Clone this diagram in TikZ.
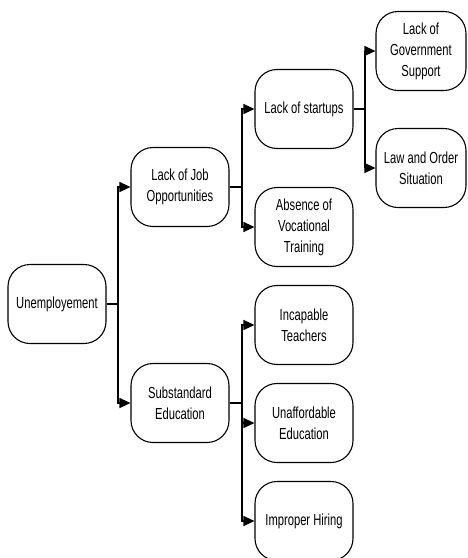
\documentclass[tikz,border=0pt]{standalone}
\usepackage{fontspec}
\setmainfont{Liberation Sans}[FakeStretch=0.7]
\usetikzlibrary{arrows.meta}

\begin{document}
\begin{tikzpicture}[x=1pt, y=-1pt, every node/.style={font=\fontsize{16}{21}\selectfont},
	box/.style={draw, line width=1.1pt, rounded corners=22pt, minimum width=98pt, minimum height=79pt, align=center, inner sep=2pt},
	link/.style={line width=1.1pt},
	arr/.style={link, -{Triangle[length=11pt, width=10pt]}}]
	\useasboundingbox (0,0) rectangle (467,558);
	% root and second level
	\node[box] (unemp) at (57,304) {Unemployement};
	\node[box] (job) at (180,187) {Lack of Job\\Opportunities};
	\node[box] (sub) at (180,403) {Substandard\\Education};
	% third level
	\node[box] (start) at (304,109) {Lack of startups};
	\node[box] (voc) at (304,227) {Absence of\\Vocational\\Training};
	\node[box] (teach) at (304,325) {Incapable\\Teachers};
	\node[box] (afford) at (304,423) {Unaffordable\\Education};
	\node[box] (hire) at (304,521) {Improper Hiring};
	% fourth level
	\node[box, minimum width=90pt] (gov) at (421,51) {Lack of\\Government\\Support};
	\node[box, minimum width=90pt] (law) at (421,168) {Law and Order\\Situation};
	% connectors
	\coordinate (t1) at (118,304);
	\coordinate (t2) at (242,187);
	\coordinate (t3) at (242,403);
	\coordinate (t4) at (365,109);
	\draw[link] (unemp) -- (t1);
	\draw[arr] (t1) |- (job);
	\draw[arr] (t1) |- (sub);
	\draw[link] (job) -- (t2);
	\draw[arr] (t2) |- (start);
	\draw[arr] (t2) |- (voc);
	\draw[link] (sub) -- (t3);
	\draw[arr] (t3) |- (teach);
	\draw[arr] (t3) |- (afford);
	\draw[arr] (t3) |- (hire);
	\draw[link] (start) -- (t4);
	\draw[arr] (t4) |- (gov);
	\draw[arr] (t4) |- (law);
\end{tikzpicture}
\end{document}
